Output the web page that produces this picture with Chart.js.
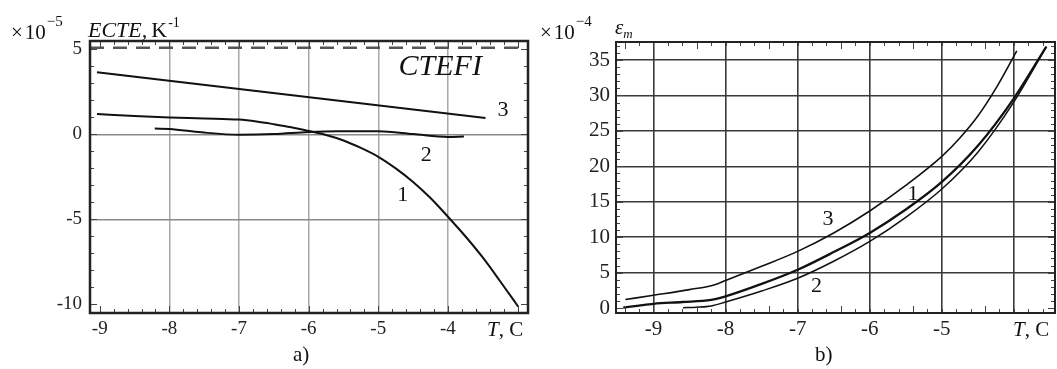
<!DOCTYPE html>
<html>
<head>
<meta charset="utf-8">
<script src="https://cdn.jsdelivr.net/npm/chart.js@4.4.1/dist/chart.umd.min.js"></script>
<style>
body { margin: 0; background: #fff; }
#wrap { position: relative; width: 1057px; height: 369px; }
canvas { position: absolute; top: 0; }
#chartA { left: 0; }
#chartB { left: 540px; }
</style>
</head>
<body>
<div id="wrap">
  <canvas id="chartA" width="540" height="369"></canvas>
  <canvas id="chartB" width="517" height="369"></canvas>
</div>
<script>
// ---- panel a) : ECTE, x10^-5 1/K against T, C ----
const ticksA_x = [-9, -8, -7, -6, -5, -4]
const ticksA_y = [5, 0, -5, -10]
const tA1 = [-9.04, -8.5, -8, -7.5, -7, -6.75, -6.5, -6.25, -6, -5.75, -5.5, -5.25, -5, -4.75, -4.5, -4.25, -4, -3.75, -3.5, -3.25, -2.99]
const ecte1 = [1.2, 1.08, 1.0, 0.94, 0.87, 0.76, 0.6, 0.42, 0.2, -0.04, -0.36, -0.8, -1.32, -2.0, -2.8, -3.75, -4.85, -6.0, -7.25, -8.65, -10.15]
const tA2 = [-8.21, -8, -7.54, -7, -6.5, -6, -5.57, -5, -4.5, -4, -3.77]
const ecte2 = [0.34, 0.32, 0.12, -0.02, 0.02, 0.14, 0.18, 0.18, 0.02, -0.15, -0.12]
const tA3 = [-9.04, -3.46]
const ecte3 = [3.66, 0.97]
const ctefi = 5.1   // dashed level

// ---- panel b) : eps_m, x10^-4 against T, C ----
const ticksB_x = [-9, -8, -7, -6, -5, -4]
const ticksB_y = [0, 5, 10, 15, 20, 25, 30, 35]
const tB1 = [-9.42, -9.2, -9, -8.6, -8.2, -8, -7.5, -7, -6.5, -6, -5.5, -5, -4.5, -4, -3.55]
const eps1 = [0.05, 0.35, 0.6, 0.85, 1.15, 1.65, 3.4, 5.4, 7.9, 10.6, 13.9, 17.8, 22.9, 29.6, 36.9]
const tB2 = [-8.59, -8.4, -8.2, -8, -7.5, -7, -6.5, -6, -5.5, -5, -4.5, -4, -3.55]
const eps2 = [0.05, 0.12, 0.3, 0.85, 2.4, 4.2, 6.6, 9.4, 12.8, 16.8, 22.0, 29.1, 36.9]
const tB3 = [-9.39, -9, -8.5, -8.15, -8, -7.5, -7, -6.5, -6, -5.5, -5, -4.75, -4.5, -4.25, -3.96]
const eps3 = [1.2, 1.8, 2.6, 3.3, 3.9, 5.9, 8.0, 10.6, 13.7, 17.3, 21.4, 24.0, 27.1, 31.0, 36.3]

const serif = '"Liberation Serif", "Times New Roman", serif'

const pts = (xs, ys) => xs.map((x, i) => ({ x: x, y: ys[i] }))

const curve = (xs, ys, w) => ({
    data: pts(xs, ys),
    borderColor: '#111',
    borderWidth: w,
    pointRadius: 0,
    cubicInterpolationMode: 'monotone',
    fill: false
})

// frame, inner minor ticks and the labels
const decor = {
    id: 'decor',
    afterDraw(chart, args, o) {
        const ctx = chart.ctx, a = chart.chartArea
        const xs = chart.scales.x, ys = chart.scales.y
        ctx.save()

        ctx.strokeStyle = '#444'
        ctx.lineWidth = 1
        ctx.beginPath()
        const nx = Math.round((xs.max - o.xStart) / o.xStep)
        for (let i = 0; i <= nx; i++) {
            const v = o.xStart + i * o.xStep
            const p = Math.round(xs.getPixelForValue(v)) + 0.5
            if (p < a.left + 2 || p > a.right - 2) continue
            const len = (i % o.xEvery === 0) ? 7 : 4
            ctx.moveTo(p, a.bottom); ctx.lineTo(p, a.bottom - len)
            ctx.moveTo(p, a.top); ctx.lineTo(p, a.top + len)
        }
        const ny = Math.round((ys.max - o.yStart) / o.yStep)
        for (let i = 0; i <= ny; i++) {
            const v = o.yStart + i * o.yStep
            const p = Math.round(ys.getPixelForValue(v)) + 0.5
            if (p < a.top + 2 || p > a.bottom - 2) continue
            const len = (i % o.yEvery === 0) ? 7 : 4
            ctx.moveTo(a.left, p); ctx.lineTo(a.left + len, p)
            ctx.moveTo(a.right, p); ctx.lineTo(a.right - len, p)
        }
        ctx.stroke()

        ctx.strokeStyle = '#222'
        ctx.lineWidth = o.frame
        ctx.strokeRect(a.left, a.top, a.right - a.left, a.bottom - a.top)

        ctx.fillStyle = '#111'
        ctx.textAlign = 'center'
        ctx.textBaseline = 'middle'
        o.marks.forEach(m => {
            ctx.font = m.f
            ctx.fillText(m.t, xs.getPixelForValue(m.x), ys.getPixelForValue(m.y))
        })

        ctx.textAlign = 'left'
        ctx.textBaseline = 'alphabetic'
        o.notes.forEach(n => {
            let x = n.x
            n.parts.forEach(p => {
                ctx.font = p.f
                ctx.fillText(p.t, x, n.y + (p.dy || 0))
                x += ctx.measureText(p.t).width + (p.gap || 0)
            })
        })
        ctx.restore()
    }
}

const setTicks = list => scale => { scale.ticks = list.map(v => ({ value: v })) }

const makeChart = (id, cfg) => new Chart(document.getElementById(id), {
    type: 'line',
    data: { datasets: cfg.datasets },
    plugins: [decor],
    options: {
        responsive: false,
        animation: false,
        events: [],
        layout: { autoPadding: false, padding: cfg.padding },
        plugins: { legend: { display: false }, tooltip: { enabled: false }, decor: cfg.decor },
        scales: {
            x: {
                type: 'linear',
                min: cfg.xMin, max: cfg.xMax,
                afterBuildTicks: setTicks(cfg.xTicks),
                afterFit: s => { s.height = cfg.xHeight },
                border: { display: false },
                grid: { drawTicks: false, lineWidth: cfg.gridWidth, color: c => cfg.xGrid(c.tick.value) },
                ticks: {
                    padding: cfg.xPad, color: '#222', maxRotation: 0, autoSkip: false,
                    font: { family: serif, size: cfg.tickSize },
                    callback: v => cfg.xLabel(v)
                }
            },
            y: {
                type: 'linear',
                min: cfg.yMin, max: cfg.yMax,
                afterBuildTicks: setTicks(cfg.yTicks),
                afterFit: s => { s.width = cfg.yWidth },
                border: { display: false },
                grid: { drawTicks: false, lineWidth: cfg.gridWidth, color: c => cfg.yGrid(c.tick.value) },
                ticks: {
                    padding: cfg.yPad, color: '#222', autoSkip: false,
                    font: { family: serif, size: cfg.tickSize },
                    callback: v => String(v)
                }
            }
        }
    }
})

makeChart('chartA', {
    datasets: [
        curve(tA1, ecte1, 2),
        curve(tA2, ecte2, 2),
        curve(tA3, ecte3, 2),
        {
            data: [{ x: -9.14, y: ctefi }, { x: -2.85, y: ctefi }],
            borderColor: '#555', borderWidth: 2.5, borderDash: [14, 9], pointRadius: 0
        }
    ],
    padding: { top: 41, right: 12, left: 0, bottom: 0 },
    xMin: -9.14, xMax: -2.85, yMin: -10.52, yMax: 5.5,
    xTicks: ticksA_x, yTicks: ticksA_y,
    xHeight: 56, yWidth: 90, xPad: 5, yPad: 8, tickSize: 19,
    gridWidth: 1.5,
    xGrid: v => v === -9 ? 'rgba(0,0,0,0)' : '#a8a8a8',
    yGrid: v => (v === 0 || v === -5) ? '#8a8a8a' : 'rgba(0,0,0,0)',
    xLabel: v => String(v),
    decor: {
        frame: 2.5, xStart: -9, xStep: 0.2, xEvery: 5, yStart: -10, yStep: 1, yEvery: 5,
        marks: [
            { t: 'CTEFI', x: -4.11, y: 3.94, f: 'italic 30px ' + serif },
            { t: '3', x: -3.21, y: 1.4, f: '22px ' + serif },
            { t: '2', x: -4.31, y: -1.2, f: '22px ' + serif },
            { t: '1', x: -4.65, y: -3.59, f: '22px ' + serif }
        ],
        notes: [
            { x: 11, y: 39, parts: [
                { t: '×', f: '21px ' + serif, gap: 2 },
                { t: '10', f: '21px ' + serif, gap: 1 },
                { t: '−5', f: '15px ' + serif, dy: -13 }] },
            { x: 88, y: 37, parts: [
                { t: 'ECTE,', f: 'italic 22px ' + serif, gap: 4 },
                { t: 'K', f: '22px ' + serif, gap: 1 },
                { t: '-1', f: '14px ' + serif, dy: -10 }] },
            { x: 487, y: 336, parts: [
                { t: 'T', f: 'italic 21px ' + serif },
                { t: ', C', f: '21px ' + serif }] },
            { x: 293, y: 361, parts: [{ t: 'a)', f: '21px ' + serif }] }
        ]
    }
})

makeChart('chartB', {
    datasets: [
        curve(tB1, eps1, 2.3),
        curve(tB2, eps2, 1.5),
        curve(tB3, eps3, 1.6)
    ],
    padding: { top: 42, right: 2, left: 0, bottom: 0 },
    xMin: -9.52, xMax: -3.43, yMin: -0.7, yMax: 37.55,
    xTicks: ticksB_x, yTicks: ticksB_y,
    xHeight: 56, yWidth: 76, xPad: 4, yPad: 6, tickSize: 21,
    gridWidth: 1.6,
    xGrid: v => '#3a3a3a',
    yGrid: v => v === 0 ? 'rgba(0,0,0,0)' : '#3a3a3a',
    xLabel: v => v === -4 ? '' : String(v),
    decor: {
        frame: 2, xStart: -9.4, xStep: 0.2, xEvery: 5, yStart: 0, yStep: 1, yEvery: 5,
        marks: [
            { t: '3', x: -6.58, y: 12.6, f: '22px ' + serif },
            { t: '1', x: -5.40, y: 16.1, f: '22px ' + serif },
            { t: '2', x: -6.74, y: 3.07, f: '22px ' + serif }
        ],
        notes: [
            { x: 0, y: 39, parts: [
                { t: '×', f: '21px ' + serif, gap: 2 },
                { t: '10', f: '21px ' + serif, gap: 1 },
                { t: '−4', f: '15px ' + serif, dy: -13 }] },
            { x: 75, y: 34, parts: [
                { t: 'ε', f: 'italic 21px ' + serif },
                { t: 'm', f: 'italic 13px ' + serif, dy: 4 }] },
            { x: 473, y: 336, parts: [
                { t: 'T', f: 'italic 21px ' + serif },
                { t: ', C', f: '21px ' + serif }] },
            { x: 275, y: 361, parts: [{ t: 'b)', f: '21px ' + serif }] }
        ]
    }
})
</script>
</body>
</html>
